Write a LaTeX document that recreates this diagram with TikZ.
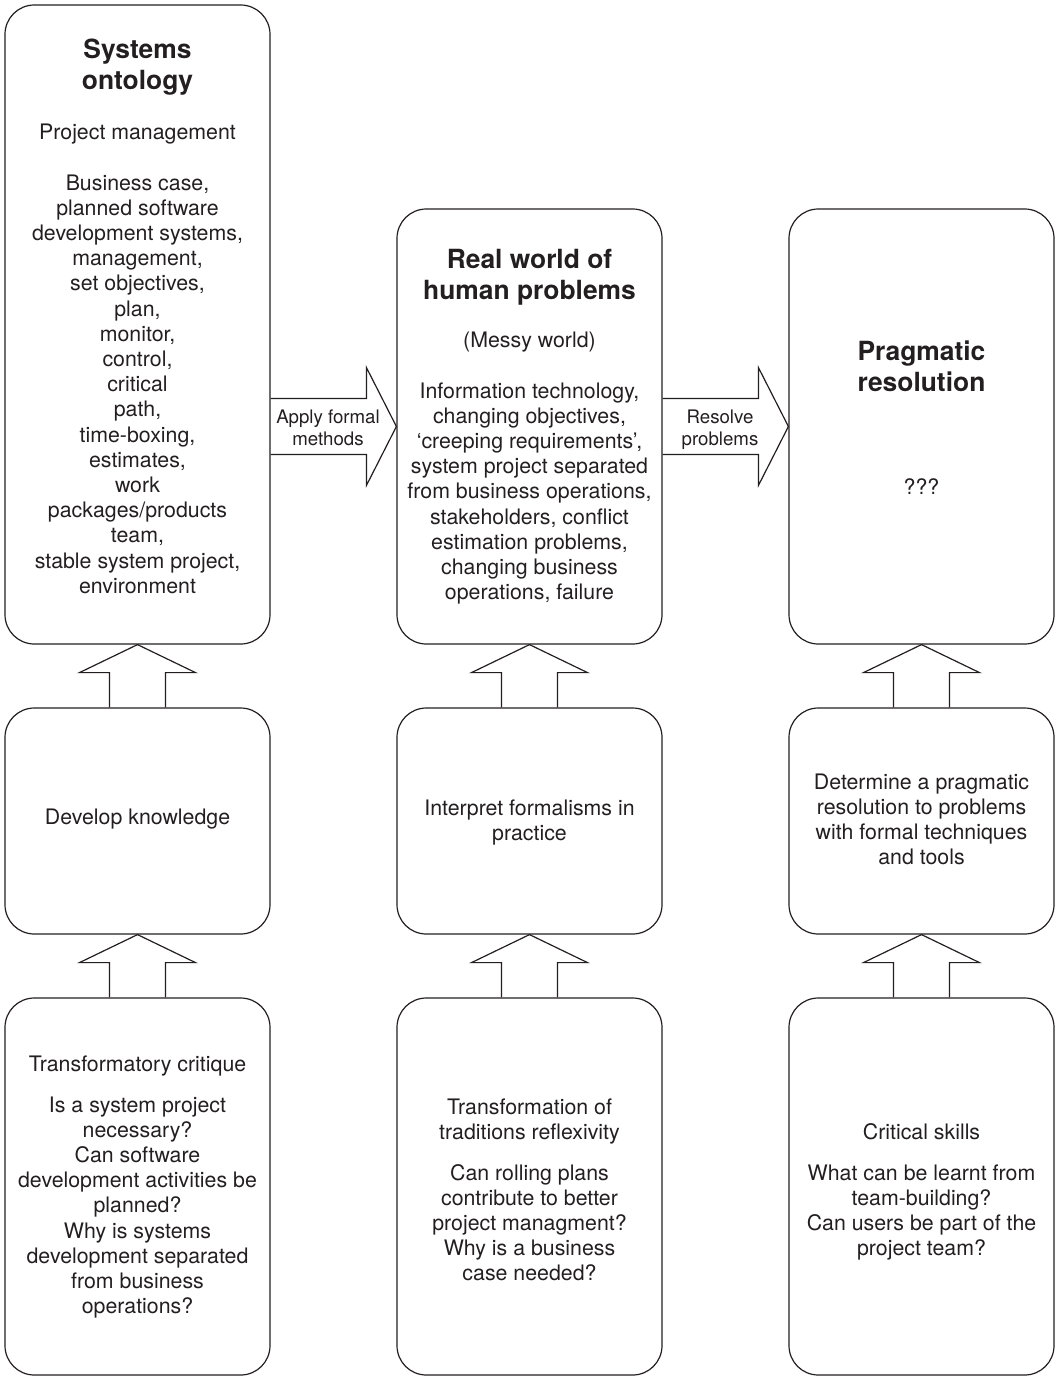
\documentclass[tikz,border=0pt]{standalone}
\usepackage{fontspec}
\setmainfont{TeX Gyre Heros}
\usetikzlibrary{calc}
\definecolor{ink}{HTML}{231F20}
\tikzset{
  box/.style={draw=ink, line width=0.9pt, rounded corners=22pt, minimum width=198.75pt, inner sep=0pt},
  hollow/.style={draw=ink, line width=0.9pt, line join=miter},
  body/.style={text=ink, font=\fontsize{16}{19}\selectfont, inner sep=0pt, anchor=base},
  head/.style={text=ink, font=\fontsize{19.8}{23.6}\selectfont\bfseries, inner sep=0pt, anchor=base},
  tag/.style={text=ink, font=\fontsize{14}{16.5}\selectfont, inner sep=0pt, anchor=base},
}
% one centred line of text per node: #1 name, #2 x, #3 first baseline, #4 pitch, #5 style, #6 lines
\newcommand\linestack[6]{%
  \foreach \thisline [count=\idx] in {#6}{%
    \node[#5] (#1-\idx) at ({#2},{#3+(\idx-1)*#4}) {\thisline};}}
% hollow arrow pointing up from box #1 to box #2
\newcommand\riser[2]{%
  \draw[hollow] ($(#1.north)+(-28,0)$) -- ($(#2.south)+(-28,28)$) -- ($(#2.south)+(-58,28)$)
    -- (#2.south) -- ($(#2.south)+(58,28)$) -- ($(#2.south)+(28,28)$) -- ($(#1.north)+(28,0)$);}
% hollow arrow pointing right from box #1 to box #2
\newcommand\pusher[2]{%
  \draw[hollow] ($(#1.east|-#2.west)+(0,-28)$) -- ($(#2.west)+(-30,-28)$) -- ($(#2.west)+(-30,-59)$)
    -- (#2.west) -- ($(#2.west)+(-30,59)$) -- ($(#2.west)+(-30,28)$) -- ($(#1.east|-#2.west)+(0,28)$);}
\begin{document}
\begin{tikzpicture}[x=0.75pt,y=-0.75pt]
\useasboundingbox (0,0) rectangle (1061,1378);

% boxes
\node[box, minimum height=479.25pt] (so)  at (137.5,324.5) {};
\node[box, minimum height=326.25pt] (rw)  at (529.5,426.5) {};
\node[box, minimum height=326.25pt] (pr)  at (921.5,426.5) {};
\node[box, minimum height=169.5pt]  (dk)  at (137.5,821) {};
\node[box, minimum height=169.5pt]  (ifp) at (529.5,821) {};
\node[box, minimum height=169.5pt]  (dpr) at (921.5,821) {};
\node[box, minimum height=282.75pt] (tc)  at (137.5,1186.5) {};
\node[box, minimum height=282.75pt] (ttr) at (529.5,1186.5) {};
\node[box, minimum height=282.75pt] (cs)  at (921.5,1186.5) {};

% arrows
\pusher{so}{rw}
\pusher{rw}{pr}
\riser{dk}{so}
\riser{ifp}{rw}
\riser{dpr}{pr}
\riser{tc}{dk}
\riser{ttr}{ifp}
\riser{cs}{dpr}

% arrow labels
\linestack{afm}{328}{423}{22}{tag}{Apply formal,methods}
\linestack{rsp}{720}{423}{22}{tag}{Resolve,problems}

% systems ontology
\linestack{soh}{137.5}{58}{31.5}{head}{Systems,ontology}
\linestack{sos}{137.5}{139}{0}{body}{Project management}
\linestack{sob}{137.5}{190}{25.2}{body}{{Business case,},{planned software},{development systems,},{management,},{set objectives,},{plan,},{monitor,},{control,},critical,{path,},{time-boxing,},{estimates,},work,{packages/products},{team,},{stable system project,},environment}

% real world
\linestack{rwh}{529.5}{268}{31.5}{head}{Real world of,human problems}
\linestack{rws}{529.5}{347}{0}{body}{(Messy world)}
\linestack{rwb}{529.5}{398}{25.2}{body}{{Information technology,},{changing objectives,},{‘creeping requirements’,},{system project separated},{from business operations,},{stakeholders, conflict},{estimation problems,},{changing business},{operations, failure}}

% pragmatic resolution
\linestack{prh}{921.5}{360}{31.5}{head}{Pragmatic,resolution}
\linestack{prb}{921.5}{494}{0}{body}{???}

% middle row
\linestack{dkt}{137.5}{824}{0}{body}{Develop knowledge}
\linestack{ifpt}{529.5}{815}{25.2}{body}{Interpret formalisms in,practice}
\linestack{dprt}{921.5}{789}{25.2}{body}{Determine a pragmatic,resolution to problems,with formal techniques,and tools}

% bottom row
\linestack{tch}{137.5}{1071}{0}{body}{Transformatory critique}
\linestack{tcb}{137.5}{1112}{25.2}{body}{Is a system project,necessary?,Can software,development activities be,planned?,Why is systems,development separated,from business,operations?}
\linestack{ttrh}{529.5}{1114}{25.2}{body}{Transformation of,traditions reflexivity}
\linestack{ttrb}{529.5}{1180}{25.2}{body}{Can rolling plans,contribute to better,project managment?,Why is a business,case needed?}
\linestack{csh}{921.5}{1139}{0}{body}{Critical skills}
\linestack{csb}{921.5}{1180}{25.2}{body}{What can be learnt from,team-building?,Can users be part of the,project team?}
\end{tikzpicture}
\end{document}
